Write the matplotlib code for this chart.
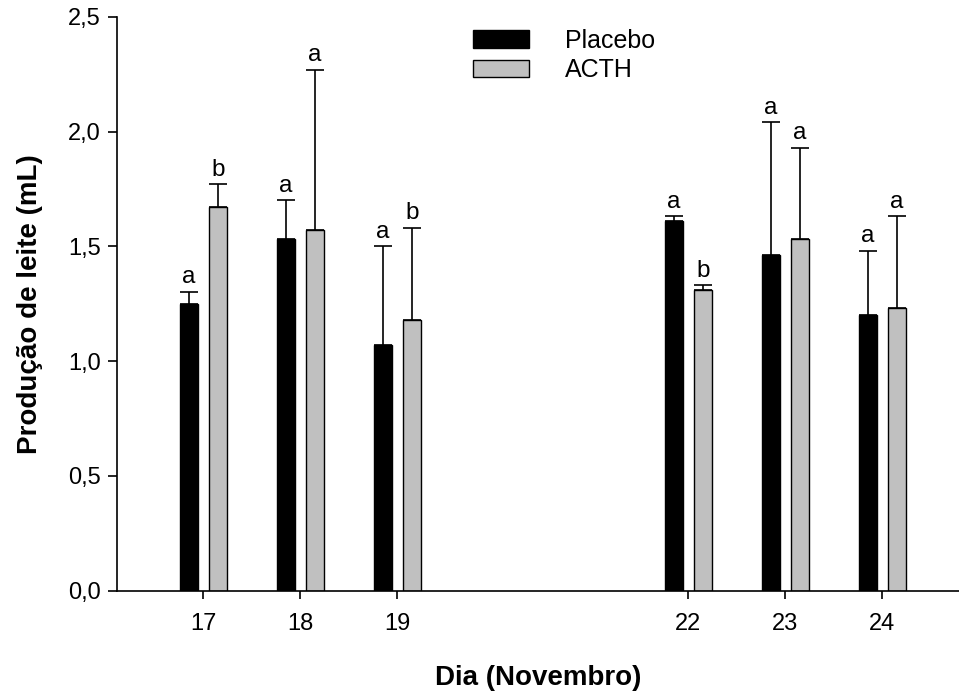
import matplotlib
matplotlib.use("Agg")
import matplotlib.pyplot as plt
from matplotlib.patches import Patch
from matplotlib.ticker import FuncFormatter

# Milk production per day (mean and upper standard error)
days = [17, 18, 19, 22, 23, 24]
placebo_mean = [1.25, 1.53, 1.07, 1.61, 1.46, 1.20]
placebo_err = [0.05, 0.17, 0.43, 0.02, 0.58, 0.28]
acth_mean = [1.67, 1.57, 1.18, 1.31, 1.53, 1.23]
acth_err = [0.10, 0.70, 0.40, 0.02, 0.40, 0.40]
placebo_letters = ["a", "a", "a", "a", "a", "a"]
acth_letters = ["b", "a", "b", "b", "a", "a"]
series_names = ["Placebo", "ACTH"]
y_ticks = [0.0, 0.5, 1.0, 1.5, 2.0, 2.5]

plt.rcParams["font.family"] = ["Liberation Sans", "DejaVu Sans"]

W, H = 959, 694
fig = plt.figure(figsize=(W / 100, H / 100), dpi=100)
ax_left, ax_right = 116.5, 959.0
ax_bottom, ax_top = 590.7, 16.7
ax = fig.add_axes([ax_left / W, (H - ax_bottom) / H,
                   (ax_right - ax_left) / W, (ax_bottom - ax_top) / H])

width = 0.19
offset = 0.15
grey = "#c0c0c0"

xp = [d - offset for d in days]
xa = [d + offset for d in days]

ax.bar(xp, placebo_mean, width=width, color="black", edgecolor="black",
       linewidth=1.0, zorder=2)
ax.bar(xa, acth_mean, width=width, color=grey, edgecolor="black",
       linewidth=1.0, zorder=2)

err_kw = dict(fmt="none", ecolor="black", elinewidth=1.2, capsize=6.8,
              capthick=1.2, zorder=1)
ax.errorbar(xp, placebo_mean, yerr=[[0] * len(days), placebo_err], **err_kw)
ax.errorbar(xa, acth_mean, yerr=[[0] * len(days), acth_err], **err_kw)

# significance letters above the error caps
for x, m, e, t in zip(xp, placebo_mean, placebo_err, placebo_letters):
    ax.annotate(t, (x, m + e), xytext=(0, 6.3), textcoords="offset points",
                ha="center", va="baseline", fontsize=17.5)
for x, m, e, t in zip(xa, acth_mean, acth_err, acth_letters):
    ax.annotate(t, (x, m + e), xytext=(0, 6.3), textcoords="offset points",
                ha="center", va="baseline", fontsize=17.5)

ax.set_xlim(16.105, 24.79)
ax.set_ylim(0, 2.5)
ax.set_xticks(days)
ax.set_xticklabels([str(d) for d in days])
ax.set_yticks(y_ticks)
ax.yaxis.set_major_formatter(FuncFormatter(lambda v, p: f"{v:.1f}".replace(".", ",")))

for s in ["top", "right"]:
    ax.spines[s].set_visible(False)
for s in ["left", "bottom"]:
    ax.spines[s].set_linewidth(1.2)

ax.tick_params(axis="both", direction="out", width=1.2, labelsize=17)
ax.tick_params(axis="y", length=6.5, pad=5)
ax.tick_params(axis="x", length=6, pad=10)

ax.set_xlabel("Dia (Novembro)", fontsize=20, fontweight="bold", labelpad=22)
ax.set_ylabel("Produção de leite (mL)", fontsize=20, fontweight="bold", labelpad=18)

handles = [Patch(facecolor="black", edgecolor="black", linewidth=1.0),
           Patch(facecolor=grey, edgecolor="black", linewidth=1.0)]
fs = 18
fs_px = fs * 100 / 72
fig.legend(handles, series_names, loc="upper left",
           bbox_to_anchor=(473 / W, 1 - 28.5 / H), frameon=False,
           fontsize=fs, borderpad=0, borderaxespad=0,
           handlelength=56 / fs_px, handleheight=17.5 / fs_px,
           handletextpad=36 / fs_px, labelspacing=0.22)

fig.savefig("out.png", dpi=100)
